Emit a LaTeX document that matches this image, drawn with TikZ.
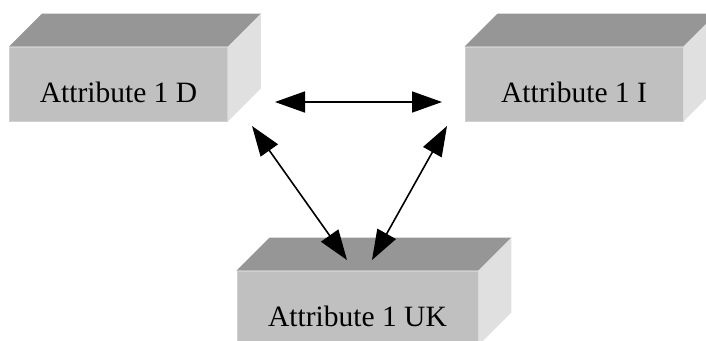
\documentclass[tikz,border=0pt]{standalone}
\usepackage{fontspec}
\setmainfont{Liberation Serif}
\usepackage{tikz}
\usetikzlibrary{arrows.meta,positioning,calc}

\definecolor{boxfront}{HTML}{C0C0C0}
\definecolor{boxtop}{HTML}{969696}
\definecolor{boxside}{HTML}{E0E0E0}
\definecolor{boxedge}{HTML}{D0D0D0}

\tikzset{
  attrface/.style={rectangle, fill=boxfront, draw=boxedge, line width=.8pt,
    minimum width=218pt, minimum height=74pt, inner sep=0pt,
    font=\fontsize{29.5}{34}\selectfont, text height=36pt, text depth=0pt},
  link/.style={line width=1.6pt,
    {Triangle[length=30pt,width=21pt]}-{Triangle[length=30pt,width=21pt]}},
}

% top and right side of a box
\newcommand{\attrsolid}[1]{%
  \fill[boxtop] (#1.north west) -- ++(33,-33) -- ($(#1.north east)+(33,-33)$) -- (#1.north east) -- cycle;
  \fill[boxside] (#1.north east) -- ++(33,-33) -- ($(#1.south east)+(33,-33)$) -- (#1.south east) -- cycle;
}

\begin{document}
\begin{tikzpicture}[x=1pt, y=-1pt]
        \path[use as bounding box, clip] (0,0) rectangle (706,340);

        \node (D) [attrface] at (118.5, 84) {Attribute 1 D};
        \node (I) [attrface] at (574, 84) {Attribute 1 I};
        \node (UK) [attrface, minimum width=241pt] at (357.5, 308) {Attribute 1 UK};
        \attrsolid{D}
        \attrsolid{I}
        \attrsolid{UK}

        \coordinate (d-right) at (275, 102);
        \coordinate (i-left) at (442, 102);
        \coordinate (d-low) at (252, 126);
        \coordinate (i-low) at (447, 126);
        \coordinate (uk-left) at (347, 260);
        \coordinate (uk-right) at (372, 260);

        \draw[link] (d-right) -- (i-left);
        \draw[link] (d-low) -- (uk-left);
        \draw[link] (i-low) -- (uk-right);
      \end{tikzpicture}
\end{document}
